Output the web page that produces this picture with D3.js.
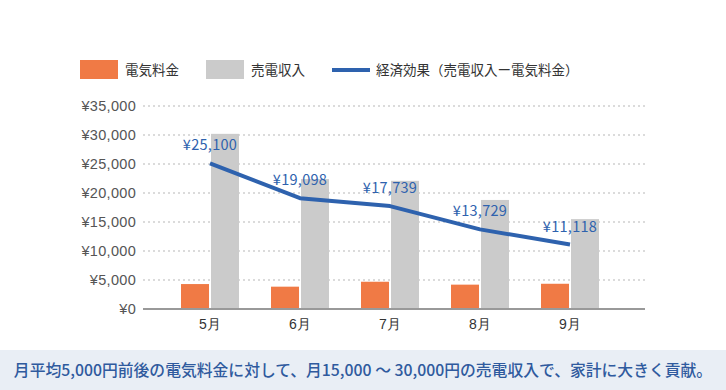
<!DOCTYPE html>
<html><head><meta charset="utf-8">
<script src="https://cdn.jsdelivr.net/npm/d3@7"></script>
<style>
html,body{margin:0;padding:0;background:#fff;}
svg{display:block;font-family:"Noto Sans CJK JP","Noto Sans",sans-serif;}
</style></head>
<body>
<svg id="chart" width="726" height="390"></svg>
<script>
const months = ["5月","6月","7月","8月","9月"];
const electricityFee = [4300, 3850, 4700, 4200, 4350];
const sellIncome = [30200, 22400, 22100, 18800, 15500];
const economicEffect = [25100, 19098, 17739, 13729, 11118];
const yTicks = [0,5000,10000,15000,20000,25000,30000,35000];
const legendLabels = ["電気料金","売電収入","経済効果（売電収入ー電気料金）"];
const caption = "月平均5,000円前後の電気料金に対して、月15,000 ～ 30,000円の売電収入で、家計に大きく貢献。";

const colors = {fee:"#f07a45", sell:"#cbcbcb", line:"#2e62ae", text:"#333", tick:"#555"};
const svg = d3.select("#chart");

const x = d3.scaleBand().domain(months).range([165,615]).paddingInner(0).paddingOuter(0);
const y = d3.scaleLinear().domain([0,35000]).range([309,106]);
const fmt = v => "¥" + d3.format(",")(v);

// gridlines
svg.append("g").selectAll("line").data(yTicks.filter(d=>d>0)).join("line")
  .attr("x1",143).attr("x2",645).attr("y1",d=>y(d)).attr("y2",d=>y(d))
  .attr("stroke","#cfcfcf").attr("stroke-width",1.5).attr("stroke-dasharray","2,3");

// y axis labels
const yAxis = d3.axisLeft(y).tickValues(yTicks).tickFormat(fmt).tickSize(0).tickPadding(0);
const yg = svg.append("g").attr("transform","translate(136,0)").call(yAxis);
yg.select(".domain").remove();
yg.selectAll("text").attr("fill",colors.tick).attr("font-size",14.5).style("font-family","inherit").style("letter-spacing","0.3px");

// bars
const barW = 28, gap = 2;
svg.append("g").selectAll("rect").data(months).join("rect")
  .attr("x",d=>x(d)+x.bandwidth()/2-barW-gap/2).attr("width",barW)
  .attr("y",(d,i)=>y(electricityFee[i])).attr("height",(d,i)=>y(0)-y(electricityFee[i]))
  .attr("fill",colors.fee);
svg.append("g").selectAll("rect").data(months).join("rect")
  .attr("x",d=>x(d)+x.bandwidth()/2+gap/2).attr("width",barW)
  .attr("y",(d,i)=>y(sellIncome[i])).attr("height",(d,i)=>y(0)-y(sellIncome[i]))
  .attr("fill",colors.sell);

// x axis
svg.append("line").attr("x1",143).attr("x2",645).attr("y1",y(0)).attr("y2",y(0))
  .attr("stroke","#999").attr("stroke-width",2);
const xAxis = d3.axisBottom(x).tickSize(0).tickPadding(0);
const xg = svg.append("g").attr("transform",`translate(0,${y(0)+15})`).call(xAxis);
xg.select(".domain").remove();
xg.selectAll("text").attr("fill",colors.text).attr("font-size",14).attr("dy","0.35em").style("font-family","inherit");

// line
const line = d3.line().x((d,i)=>x(months[i])+x.bandwidth()/2).y(d=>y(d));
svg.append("path").datum(economicEffect).attr("d",line)
  .attr("fill","none").attr("stroke",colors.line).attr("stroke-width",4).attr("stroke-linejoin","round");

// value labels
svg.append("g").selectAll("text").data(economicEffect).join("text")
  .attr("x",(d,i)=>x(months[i])+x.bandwidth()/2)
  .attr("y",d=>y(d)-18)
  .attr("dy","0.35em")
  .attr("text-anchor","middle").attr("fill",colors.line).attr("font-size",14.5)
  .style("letter-spacing","0.3px")
  .text(fmt);

// legend
const lg = svg.append("g");
lg.append("rect").attr("x",80).attr("y",60).attr("width",38).attr("height",19).attr("fill",colors.fee);
lg.append("text").attr("x",125).attr("y",70).attr("dy","0.35em").attr("font-size",13.5).attr("fill",colors.text).text(legendLabels[0]);
lg.append("rect").attr("x",206).attr("y",60).attr("width",38).attr("height",19).attr("fill",colors.sell);
lg.append("text").attr("x",251).attr("y",70).attr("dy","0.35em").attr("font-size",13.5).attr("fill",colors.text).text(legendLabels[1]);
lg.append("line").attr("x1",332).attr("x2",370).attr("y1",70).attr("y2",70).attr("stroke",colors.line).attr("stroke-width",4);
lg.append("text").attr("x",376).attr("y",70).attr("dy","0.35em").attr("font-size",13.5).attr("fill",colors.text).text(legendLabels[2]);

// caption band
svg.append("rect").attr("x",0).attr("y",350).attr("width",726).attr("height",40).attr("fill","#e9eef5");
svg.append("text").attr("x",363).attr("y",370).attr("dy","0.35em").attr("text-anchor","middle")
  .attr("font-size",15.8).attr("font-weight",500).attr("fill","#2f5a9e").text(caption);
</script>
</body></html>
